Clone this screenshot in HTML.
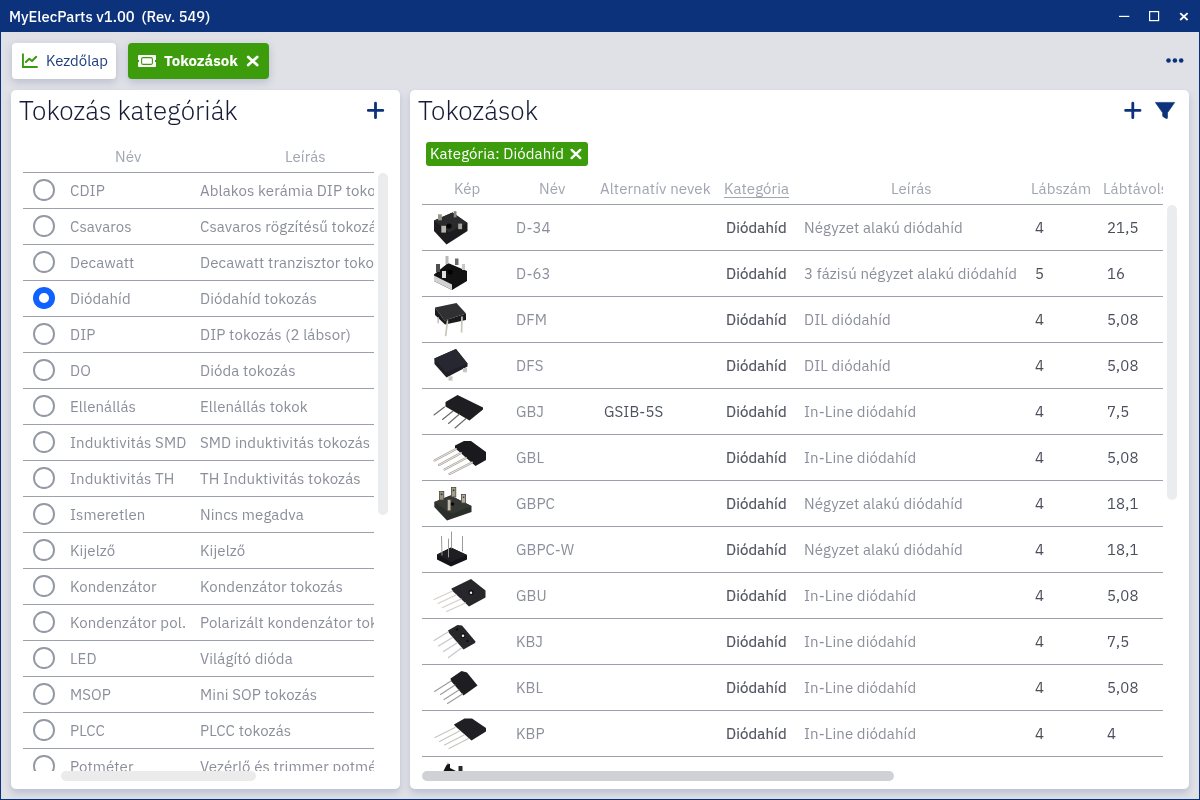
<!DOCTYPE html>
<html lang="hu">
<head>
<meta charset="utf-8">
<title>MyElecParts v1.00 (Rev. 549)</title>
<style>
*{box-sizing:border-box;margin:0;padding:0}
html,body{width:1200px;height:800px;overflow:hidden}
body{position:relative;will-change:transform;background:#dfe1e7;font-family:"IBM Plex Sans","Liberation Sans",sans-serif;font-size:15px;color:#4b4f5b}
.win{position:absolute;left:0;top:0;width:1200px;height:800px;border:1px solid #0b327a;border-top:none;z-index:50;pointer-events:none}
.titlebar{position:absolute;left:0;top:0;width:1200px;height:32px;background:#0b327a}
.ttl{position:absolute;left:9px;top:7px;color:#fff;font-weight:500;font-size:14.75px;line-height:20px;white-space:pre}
.tab{position:absolute;top:43px;height:36px;border-radius:4px;box-shadow:0 3px 8px rgba(40,50,100,.2)}
.tab1{left:12px;width:104px;background:#fff}
.tab2{left:128px;width:141px;background:#3c9c0c}
.tabt{position:absolute;font-size:15px;line-height:20px;white-space:nowrap}
.panel{position:absolute;top:90px;height:699px;background:#fff;border-radius:5px;box-shadow:0 4px 7px rgba(50,60,110,.2)}
.pl{left:11px;width:389px}
.pr{left:410px;width:779px}
.h1{position:absolute;font-size:26px;line-height:34px;color:#161b36;font-weight:300;white-space:nowrap}
.th{position:absolute;letter-spacing:.1px;color:#a1a5b1;white-space:nowrap;line-height:20px;font-size:15px}
.hl{position:absolute;height:1px;background:#9ca1ae}
.lt{position:absolute;left:23px;top:172px;width:351px;height:599px;overflow:hidden}
.lr{position:absolute;left:0;width:351px;height:36px;border-top:1px solid #9ca1ae}
.rad{position:absolute;left:10px;top:6px;width:21.5px;height:21.5px;border-radius:50%;border:2px solid #9599a5}
.rad.sel{border:6.5px solid #0f62fe}
.ln,.ld{position:absolute;top:8px;letter-spacing:.1px;line-height:20px;white-space:nowrap;color:#8b8f9b}
.ln{left:47px}
.ld{left:177px}
.rt{position:absolute;left:422px;top:204px;width:741px;height:567px;overflow:hidden}
.rr{position:absolute;left:0;width:741px;height:46px;border-top:1px solid #9ca1ae}
.rr span{position:absolute;top:13px;letter-spacing:.1px;line-height:20px;white-space:nowrap;color:#8b8f9b}
.rr .rim{left:0;top:0;width:70px;height:45px}
.rn{left:94px}
.ra{left:182px;color:#4d5260!important}
.rc{left:304px;font-weight:400;-webkit-text-stroke:.2px #4f535f;color:#4f535f!important}
.rd{left:382px}
.rls{left:613px;color:#4b4f5b!important}
.rlt{left:685px;color:#4b4f5b!important}
.sb{position:absolute;border-radius:5px}
.sbl-v{left:378px;top:173px;width:9.5px;height:342px;background:#ebecee}
.sbl-h{left:61px;top:771px;width:195px;height:10px;background:#ebebec}
.sbr-v{left:1167px;top:205px;width:9.5px;height:295px;background:#ebecee}
.sbr-h{left:422px;top:771px;width:472px;height:10px;background:#d0d1d5}
.imgs{position:absolute;left:0;top:0;z-index:2}

</style>
</head>
<body>
<div class="titlebar"></div>
<div class="ttl">MyElecParts v1.00  (Rev. 549)</div>
<svg style="position:absolute;left:1110px;top:0" width="90" height="32" viewBox="1110 0 90 32">
<rect x="1119" y="15.8" width="10.3" height="1.2" fill="#fff"/>
<rect x="1149.6" y="11.6" width="9" height="9" fill="none" stroke="#fff" stroke-width="1.2"/>
<path d="M1180.2 13.2L1187.6 20M1187.6 13.2L1180.2 20" stroke="#fff" stroke-width="1.8"/>
</svg>
<div class="tab tab1"></div>
<svg style="position:absolute;left:20px;top:52px" width="20" height="18" viewBox="20 52 20 18">
<path d="M22.95 54.2V67H37" fill="none" stroke="#3a9a10" stroke-width="1.9" stroke-linecap="round"/>
<path d="M25.9 62L29.3 58.7L32 61L36.2 56.8" fill="none" stroke="#3a9a10" stroke-width="2" stroke-linecap="round" stroke-linejoin="round"/>
</svg>
<div class="tabt" style="left:46px;top:51px;color:#1f3f80">Kezdőlap</div>
<div class="tab tab2"></div>
<svg style="position:absolute;left:136px;top:52px" width="24" height="18" viewBox="136 52 24 18">
<path d="M139 55H155Q156 55 156 56V59.8A1.2 1.2 0 0 0 156 62.2V66Q156 67 155 67H139Q138 67 138 66V62.2A1.2 1.2 0 0 0 138 59.8V56Q138 55 139 55Z" fill="#fff"/>
<rect x="141.6" y="57.6" width="10.8" height="6.8" rx="1.5" fill="#fff" stroke="#3c9c0c" stroke-width="1.1"/>
</svg>
<div class="tabt" style="left:164px;top:51px;color:#fff;font-weight:700">Tokozások</div>
<svg style="position:absolute;left:244px;top:53px" width="18" height="16" viewBox="244 53 18 16">
<path d="M248.2 56.9L257.2 65.1M257.2 56.9L248.2 65.1" stroke="#fff" stroke-width="2.7" stroke-linecap="round"/>
</svg>
<svg style="position:absolute;left:1160px;top:52px" width="30" height="16" viewBox="1160 52 30 16">
<circle cx="1168.5" cy="60.5" r="2.3" fill="#0b327a"/><circle cx="1174.9" cy="60.5" r="2.3" fill="#0b327a"/><circle cx="1181.2" cy="60.5" r="2.3" fill="#0b327a"/>
</svg>
<div class="panel pl"></div>
<div class="panel pr"></div>
<div class="h1" style="left:19px;top:93px">Tokozás kategóriák</div>
<svg style="position:absolute;left:364px;top:99px" width="24" height="24" viewBox="364 99 24 24">
<path d="M375.5 103.2V117.7M368.3 110.4H382.8" stroke="#0b327a" stroke-width="2.8" stroke-linecap="round"/>
</svg>
<div class="th" style="left:115px;top:147px">Név</div>
<div class="th" style="left:285px;top:147px">Leírás</div>
<div class="h1" style="left:418px;top:93px">Tokozások</div>
<svg style="position:absolute;left:1120px;top:99px" width="60" height="24" viewBox="1120 99 60 24">
<path d="M1132.8 103.2V117.7M1125.6 110.4H1140" stroke="#0b327a" stroke-width="2.8" stroke-linecap="round"/>
<path d="M1155.3 102.4H1174.7L1167.5 112.8V117.6Q1167.5 119 1166.3 118.5L1163.4 116.9Q1162.6 116.4 1162.6 115.5V112.8Z" fill="#0b327a" stroke="#0b327a" stroke-width=".6" stroke-linejoin="round"/>
</svg>
<div style="position:absolute;left:426px;top:142px;width:162px;height:24px;background:#3c9c0c;border-radius:3px"></div>
<div class="tabt" style="left:430px;top:144px;color:#fff;letter-spacing:.1px">Kategória: Diódahíd</div>
<svg style="position:absolute;left:568px;top:146px" width="16" height="16" viewBox="568 146 16 16">
<path d="M571.6 149.9L580.3 158.1M580.3 149.9L571.6 158.1" stroke="#fff" stroke-width="2.4" stroke-linecap="round"/>
</svg>
<div class="th" style="left:454px;top:179px">Kép</div>
<div class="th" style="left:539px;top:179px">Név</div>
<div class="th" style="left:600px;top:179px">Alternatív nevek</div>
<div class="th" style="left:724px;top:179px;text-decoration:underline;text-underline-offset:3px">Kategória</div>
<div class="th" style="left:891px;top:179px">Leírás</div>
<div class="th" style="left:1031px;top:179px">Lábszám</div>
<div style="position:absolute;left:1103px;top:179px;width:60px;overflow:hidden"><div class="th" style="position:relative">Lábtávolság</div></div>
<div class="win"></div>

<div class="lt">
<div class="lr" style="top:0px"><i class="rad"></i><span class="ln">CDIP</span><span class="ld">Ablakos kerámia DIP tokozás</span></div>
<div class="lr" style="top:36px"><i class="rad"></i><span class="ln">Csavaros</span><span class="ld">Csavaros rögzítésű tokozás</span></div>
<div class="lr" style="top:72px"><i class="rad"></i><span class="ln">Decawatt</span><span class="ld">Decawatt tranzisztor tokozás</span></div>
<div class="lr" style="top:108px"><i class="rad sel"></i><span class="ln">Diódahíd</span><span class="ld">Diódahíd tokozás</span></div>
<div class="lr" style="top:144px"><i class="rad"></i><span class="ln">DIP</span><span class="ld">DIP tokozás (2 lábsor)</span></div>
<div class="lr" style="top:180px"><i class="rad"></i><span class="ln">DO</span><span class="ld">Dióda tokozás</span></div>
<div class="lr" style="top:216px"><i class="rad"></i><span class="ln">Ellenállás</span><span class="ld">Ellenállás tokok</span></div>
<div class="lr" style="top:252px"><i class="rad"></i><span class="ln">Induktivitás SMD</span><span class="ld">SMD induktivitás tokozás</span></div>
<div class="lr" style="top:288px"><i class="rad"></i><span class="ln">Induktivitás TH</span><span class="ld">TH Induktivitás tokozás</span></div>
<div class="lr" style="top:324px"><i class="rad"></i><span class="ln">Ismeretlen</span><span class="ld">Nincs megadva</span></div>
<div class="lr" style="top:360px"><i class="rad"></i><span class="ln">Kijelző</span><span class="ld">Kijelző</span></div>
<div class="lr" style="top:396px"><i class="rad"></i><span class="ln">Kondenzátor</span><span class="ld">Kondenzátor tokozás</span></div>
<div class="lr" style="top:432px"><i class="rad"></i><span class="ln">Kondenzátor pol.</span><span class="ld">Polarizált kondenzátor tokozás</span></div>
<div class="lr" style="top:468px"><i class="rad"></i><span class="ln">LED</span><span class="ld">Világító dióda</span></div>
<div class="lr" style="top:504px"><i class="rad"></i><span class="ln">MSOP</span><span class="ld">Mini SOP tokozás</span></div>
<div class="lr" style="top:540px"><i class="rad"></i><span class="ln">PLCC</span><span class="ld">PLCC tokozás</span></div>
<div class="lr" style="top:576px"><i class="rad"></i><span class="ln">Potméter</span><span class="ld">Vezérlő és trimmer potméter</span></div>
</div>
<div class="rt">
<svg class="imgs" width="741" height="567" viewBox="422 204 741 567">
<g stroke-linecap="round">
<!-- D-34 -->
<polygon points="434,220.5 452.5,212.5 467.5,223 467.5,231 446.5,244.5 434,231" fill="#1c1c1e"/>
<polygon points="434,220.5 452.5,212.5 467.5,223 449,232.5" fill="#2b2b2d"/>
<rect x="438" y="214.3" width="3.9" height="6" fill="#9a968e"/>
<rect x="453.7" y="211.2" width="2.8" height="6.2" fill="#8c8880"/>
<rect x="441.3" y="225.8" width="4.7" height="6.8" fill="#b8b4ac"/>
<rect x="458.2" y="223.6" width="3.9" height="5.6" fill="#aaa69e"/>
<circle cx="449" cy="226" r="2.6" fill="#050505"/>
<!-- D-63 -->
<polygon points="434,274.5 448,263 467,271 467,281 452,290 434,281" fill="#121212"/>
<polygon points="434,275.5 452,284.5 452,290 434,281" fill="#d2d2d2"/>
<rect x="445.5" y="256" width="3" height="8" fill="#b8b8b8"/>
<rect x="455" y="258.5" width="3.5" height="6.5" fill="#6c6c6c"/>
<rect x="462" y="264" width="3" height="6" fill="#c8c8c8"/>
<rect x="436" y="264" width="4" height="8" fill="#505050"/>
<rect x="442" y="271" width="4" height="7" fill="#e0e0e0"/>
<circle cx="450" cy="272" r="2.5" fill="#000"/>
<!-- DFM -->
<polygon points="435,307.5 456.5,303 466,313.5 444.5,320.5" fill="#303032"/>
<polygon points="435,307.5 444.5,320.5 466,313.5 466,320 445,324.5 435,315" fill="#1b1b1d"/>
<g stroke="#c9c5bb" stroke-width="1.7"><path d="M447.5 321L445.7 335.5M462 317L461.6 332M438.2 318L438.2 322.5"/></g>
<!-- DFS -->
<polygon points="434.3,358.5 456,349 467.5,363.5 467.5,366.5 446.5,377.5 434.5,364" fill="#1f1f27"/>
<polygon points="434.3,358.5 456,349 467.5,363.5 446,372.5" fill="#272731"/>
<rect x="448.5" y="376.3" width="4" height="4.3" fill="#c9c5c1"/>
<rect x="463" y="368" width="4" height="4.3" fill="#c9c5c1"/>
<!-- GBJ -->
<polygon points="445.5,402 457.5,395 483,407.5 483,409.5 469.5,420.5 445.5,406.5" fill="#1d1d22"/>
<g stroke="#6a6a6a" stroke-width="1.1"><path d="M444.5 407L434 415M453 411L442.5 419.5M459.5 414L448.5 423.5M466 418.5L455 428"/></g>
<!-- GBL -->
<polygon points="455,445.5 464,441 471,441 486,452 486,460 475.5,466 455,448" fill="#1a1a1e"/>
<g stroke="#a8a39c" stroke-width="2.1"><path d="M456 449L434.5 460.5M461 453L439 465M466 458L444.5 469.5M472 462.5L449.5 474"/></g><g stroke="#ebe7e1" stroke-width="1"><path d="M456 449L434.5 460.5M461 453L439 465M466 458L444.5 469.5M472 462.5L449.5 474"/></g>
<!-- GBPC -->
<polygon points="434.3,502 450.5,495.5 471.5,506 471.5,512 447,520.5 434.3,507" fill="#2c2e2a"/>
<polygon points="434.3,502 450.5,495.5 471.5,506 452,514" fill="#363833"/>
<g stroke="#4e483e" stroke-width=".8"><rect x="439.4" y="491.4" width="4.4" height="8.6" fill="#9a9282"/>
<rect x="451.4" y="487.4" width="4.4" height="9.6" fill="#a49c8c"/>
<rect x="461.4" y="494.4" width="4.2" height="8.6" fill="#b4ac9c"/>
<rect x="447.3" y="499.4" width="3.6" height="11.4" fill="#c2baaa"/></g>
<rect x="440.8" y="493.5" width="1.6" height="1.6" fill="#3a362e"/><rect x="452.8" y="489.5" width="1.6" height="1.6" fill="#3a362e"/><rect x="462.8" y="496.5" width="1.5" height="1.5" fill="#4a463e"/>
<circle cx="452.5" cy="504" r="1.8" fill="#0a0a0a"/>
<!-- GBPC-W -->
<polygon points="437,554.5 451,547.5 467,555 467,559.5 451,566.5 437,559.5" fill="#141418"/>
<polygon points="437,554.5 451,547.5 467,555 451,562" fill="#1f1f23"/>
<g stroke="#9a9a9a" stroke-width="1"><path d="M441.5 536.5L442 555M448.5 539L448.5 557M451.5 532L451.5 548M462.5 536.5L462.5 551"/></g>
<!-- GBU -->
<polygon points="451.5,588.5 471,579 485.5,590.5 485.5,597.5 469,606.5 452,590.5" fill="#26262b"/>
<circle cx="471" cy="592.3" r="2.6" fill="#111"/><circle cx="471" cy="592.8" r="1.2" fill="#eee"/>
<g stroke="#d4d0cc" stroke-width="1.3"><path d="M452.5 591L434 599.5M456 595L438 603.5M461 599L442.5 607.5M465.5 603L446.5 611.5"/></g>
<!-- KBJ -->
<polygon points="448,630.5 457.5,625 462,625.5 475.5,641.5 475,643 463.5,649.5 449,633" fill="#27272b"/>
<circle cx="463" cy="635.5" r="2.4" fill="#111"/><circle cx="463" cy="635.8" r="1.3" fill="#f2f2f2"/>
<circle cx="457" cy="629.5" r="1.3" fill="#111"/><circle cx="467.5" cy="641" r="1.3" fill="#111"/>
<g stroke="#c8c8cc" stroke-width="1.3"><path d="M448 632L434 640.5M452.5 637.5L438.5 646M457 643L443.5 651.5M461.5 648L448.5 657.5"/></g>
<!-- KBL -->
<polygon points="450.5,678.5 461.5,671 467,672.5 477.5,685.5 463.5,695.5 451,681" fill="#1e1e22"/>
<g stroke="#9c9c9c" stroke-width="1.1"><path d="M451 681L434.5 691.5M455 685L440.5 694.5M459 690L444 699.5M462.5 694L447.5 703.5"/></g>
<!-- KBP -->
<polygon points="454,724.5 464.5,718.5 472,718.5 486,728 486,731.5 471.5,740.5 455,726" fill="#202024"/>
<g stroke="#c8c6c0" stroke-width="1.2"><path d="M455 727.5L435 737.5M459.5 731L439.5 741.5M464 735L444.5 745M468.5 738.5L449 748.5"/></g>
<!-- KBPC partial -->
<polygon points="443.5,771 446,766 447.5,763.5 450,764 450,768 456,771" fill="#151515"/>
<circle cx="447.8" cy="763.6" r="1" fill="#cfcac0"/>
<rect x="458.5" y="766" width="4" height="5" fill="#2a2a2a"/>
</g>
</svg>

<div class="rr" style="top:0px"><span class="rn">D-34</span><span class="ra"></span><span class="rc">Diódahíd</span><span class="rd">Négyzet alakú diódahíd</span><span class="rls">4</span><span class="rlt">21,5</span></div>
<div class="rr" style="top:46px"><span class="rn">D-63</span><span class="ra"></span><span class="rc">Diódahíd</span><span class="rd">3 fázisú négyzet alakú diódahíd</span><span class="rls">5</span><span class="rlt">16</span></div>
<div class="rr" style="top:92px"><span class="rn">DFM</span><span class="ra"></span><span class="rc">Diódahíd</span><span class="rd">DIL diódahíd</span><span class="rls">4</span><span class="rlt">5,08</span></div>
<div class="rr" style="top:138px"><span class="rn">DFS</span><span class="ra"></span><span class="rc">Diódahíd</span><span class="rd">DIL diódahíd</span><span class="rls">4</span><span class="rlt">5,08</span></div>
<div class="rr" style="top:184px"><span class="rn">GBJ</span><span class="ra">GSIB-5S</span><span class="rc">Diódahíd</span><span class="rd">In-Line diódahíd</span><span class="rls">4</span><span class="rlt">7,5</span></div>
<div class="rr" style="top:230px"><span class="rn">GBL</span><span class="ra"></span><span class="rc">Diódahíd</span><span class="rd">In-Line diódahíd</span><span class="rls">4</span><span class="rlt">5,08</span></div>
<div class="rr" style="top:276px"><span class="rn">GBPC</span><span class="ra"></span><span class="rc">Diódahíd</span><span class="rd">Négyzet alakú diódahíd</span><span class="rls">4</span><span class="rlt">18,1</span></div>
<div class="rr" style="top:322px"><span class="rn">GBPC-W</span><span class="ra"></span><span class="rc">Diódahíd</span><span class="rd">Négyzet alakú diódahíd</span><span class="rls">4</span><span class="rlt">18,1</span></div>
<div class="rr" style="top:368px"><span class="rn">GBU</span><span class="ra"></span><span class="rc">Diódahíd</span><span class="rd">In-Line diódahíd</span><span class="rls">4</span><span class="rlt">5,08</span></div>
<div class="rr" style="top:414px"><span class="rn">KBJ</span><span class="ra"></span><span class="rc">Diódahíd</span><span class="rd">In-Line diódahíd</span><span class="rls">4</span><span class="rlt">7,5</span></div>
<div class="rr" style="top:460px"><span class="rn">KBL</span><span class="ra"></span><span class="rc">Diódahíd</span><span class="rd">In-Line diódahíd</span><span class="rls">4</span><span class="rlt">5,08</span></div>
<div class="rr" style="top:506px"><span class="rn">KBP</span><span class="ra"></span><span class="rc">Diódahíd</span><span class="rd">In-Line diódahíd</span><span class="rls">4</span><span class="rlt">4</span></div>
<div class="rr" style="top:552px"><span class="rn">KBPC</span><span class="ra"></span><span class="rc">Diódahíd</span><span class="rd">Négyzet alakú diódahíd</span><span class="rls">4</span><span class="rlt"></span></div>
</div>
<div class="sb sbl-v"></div><div class="sb sbl-h"></div><div class="sb sbr-v"></div><div class="sb sbr-h"></div>
</body>
</html>
